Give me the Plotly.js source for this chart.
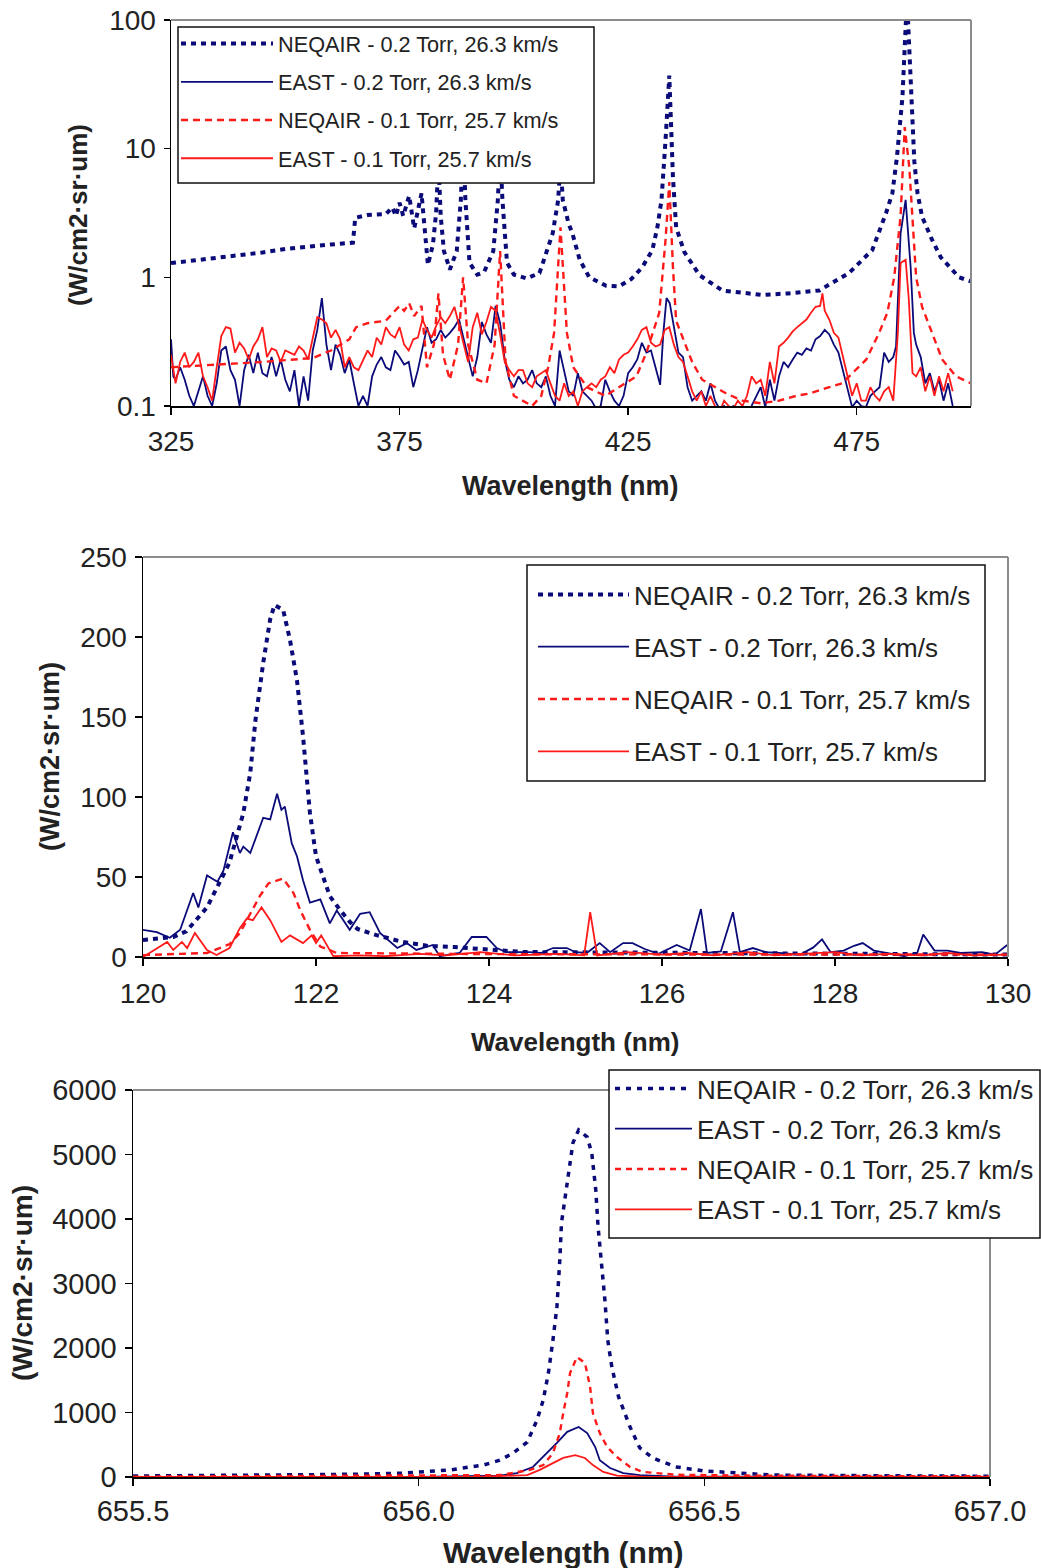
<!DOCTYPE html>
<html>
<head>
<meta charset="utf-8">
<script src="https://cdn.plot.ly/plotly-3.0.1.min.js"></script>
<style>
  html, body { margin: 0; padding: 0; background: #fff; }
  #chart { width: 1041px; height: 1568px; }
</style>
</head>
<body>
<div id="chart"></div>
<script>
// ---------- Series names ----------
const seriesNames = [
  'NEQAIR - 0.2 Torr, 26.3 km/s',
  'EAST - 0.2 Torr, 26.3 km/s',
  'NEQAIR - 0.1 Torr, 25.7 km/s',
  'EAST - 0.1 Torr, 25.7 km/s'
];

// ---------- Panel 1 : 325-500 nm (log scale) ----------
const p1NeqairHighX = [325,330,335,340,345,350,355,360,364.8,365.3,368,372,373.4,374.2,375,375.8,377.1,378.2,379.8,381.2,382.3,383.0,383.5,384.0,384.7,386,387.5,388.4,388.9,389.4,390.3,392,393.5,395.5,396.5,397,397.5,398.5,400,402.8,405.6,407.2,408.5,409.7,410.2,410.7,412,412.8,414.4,416.5,420.2,423,425.7,428.1,430.3,431.4,432.3,433.2,434.0,434.8,435.5,437.3,440.6,445.6,452,454.3,460,466.8,473.3,478.4,481.4,482.8,483.8,485.0,486.0,487.0,487.6,488.3,489.3,491.5,493.4,497.4,500];
const p1NeqairHighY = [1.29,1.35,1.41,1.48,1.56,1.66,1.74,1.80,1.86,2.9,3.05,3.1,3.5,3.0,3.8,3.0,4.3,2.4,4.5,1.25,1.8,3.2,8,3.0,1.6,1.15,1.6,4,12,4,1.3,1.05,1.1,1.6,4,10,4,1.3,1.05,0.98,1.08,1.58,2.2,4,8,4,2.6,2.2,1.37,1.0,0.86,0.85,0.97,1.2,1.63,2.45,4.0,12,37,6,2.45,1.57,1.04,0.79,0.74,0.73,0.75,0.79,1.08,1.63,3.15,4.5,8.6,25,150,20,8,4.5,2.96,1.95,1.43,1.0,0.93];

const p1EastHighX = [325,325.5,326,327,328,329,330,331,332,333,334,335,336,337,338,339,340,341,342,343,344,345,346,347,348,349,350,351,352,353,354,355,356,357,358,359,360,361,362,363,364,365,366,367,368,369,370,371,372,373,374,375,376,377,378,379,380,381,382,383,384,385,386,387,388,389,390,391,392,393,394,395,396,397,398,399,400,401,402,403,404,405,406,407,408,409,410,411,412,413,414,415,416,417,418,419,420,421,422,423,424,425,426,427,428,429,430,431,432,432.7,433.4,434.1,435,436,437,438,439,440,441,442,443,444,445,446,447,448,449,450,451,452,453,454,455,456,457,458,459,460,461,462,463,464,465,466,467,468,469,470,471,472,473,474,475,476,477,478,479,480,481,482,483,483.6,484.6,485.7,486.8,487.5,488,489,490,491,492,493,494,495,496];
const p1EastHighY = [0.33,0.17,0.16,0.20,0.16,0.12,0.10,0.13,0.17,0.12,0.10,0.15,0.27,0.29,0.19,0.16,0.10,0.19,0.25,0.18,0.26,0.18,0.17,0.24,0.17,0.23,0.16,0.13,0.19,0.10,0.17,0.11,0.27,0.39,0.69,0.30,0.19,0.30,0.25,0.18,0.23,0.15,0.10,0.12,0.10,0.17,0.21,0.24,0.20,0.19,0.27,0.24,0.21,0.22,0.14,0.19,0.28,0.41,0.31,0.33,0.39,0.34,0.37,0.41,0.47,0.33,0.24,0.17,0.24,0.45,0.36,0.31,0.60,0.44,0.23,0.16,0.14,0.17,0.15,0.16,0.19,0.15,0.14,0.17,0.12,0.10,0.27,0.19,0.13,0.12,0.18,0.13,0.12,0.11,0.095,0.10,0.16,0.13,0.11,0.10,0.12,0.18,0.20,0.23,0.31,0.26,0.27,0.20,0.146,0.37,0.69,0.63,0.41,0.26,0.24,0.14,0.11,0.12,0.13,0.11,0.15,0.11,0.095,0.10,0.09,0.10,0.095,0.10,0.09,0.10,0.12,0.14,0.098,0.16,0.11,0.17,0.22,0.20,0.23,0.26,0.25,0.28,0.27,0.33,0.35,0.39,0.36,0.30,0.26,0.19,0.14,0.098,0.11,0.10,0.098,0.12,0.13,0.14,0.26,0.22,0.24,0.29,2.2,4.0,1.2,0.37,0.30,0.24,0.15,0.18,0.13,0.16,0.11,0.15,0.10];

const p1NeqairLowX = [325,335,345,356,360,364,365.5,368,372,374,375,376,377.1,378.2,379.8,381,382.5,383.5,384.5,386,387.8,388.9,390,392,394,395.8,397.0,398.2,400,404,406,407.5,408.8,410.2,411.6,413,416,420,423,426.8,429,431.8,433.2,434.0,434.8,435.5,439,441.2,446.5,450,454,458,461.8,464.6,469,471.8,477.1,479.9,481.7,483.2,484.6,485.5,486.5,488.0,489.3,491.5,493.7,496.7,500];
const p1NeqairLowY = [0.2,0.21,0.22,0.236,0.27,0.33,0.41,0.44,0.46,0.55,0.6,0.55,0.63,0.5,0.6,0.2,0.3,0.75,0.25,0.16,0.3,1.0,0.3,0.16,0.15,0.3,1.6,0.22,0.12,0.1,0.12,0.2,0.37,2.45,0.37,0.2,0.14,0.12,0.14,0.17,0.26,0.53,2.0,5.5,1.2,0.46,0.22,0.16,0.125,0.11,0.105,0.11,0.12,0.125,0.14,0.15,0.23,0.37,0.53,1.0,3.0,14.7,7.2,1.0,0.59,0.37,0.23,0.17,0.15];

const p1EastLowX = [325,326,327,328,329,330,331,332,333,334,335,336,337,338,339,340,341,342,343,344,345,346,347,348,349,350,351,352,353,354,355,356,357,358,359,360,361,362,363,364,365,366,367,368,369,370,371,372,373,374,375,376,377,378,379,380,381,382,383,384,385,386,387,388,389,390,391,392,393,394,395,396,397,398,399,400,401,402,403,404,405,406,407,408,409,410,411,412,413,414,415,416,417,418,419,420,421,422,423,424,425,426,427,428,429,430,431,432,433,434,435,436,437,438,439,440,441,442,443,444,445,446,447,448,449,450,451,452,453,454,455,456,457,458,459,460,461,462,463,464,465,466,467,467.5,468,469,470,471,472,473,474,475,476,477,478,479,480,481,482,483,484,484.6,485.7,486.4,487.2,488,489,490,491,492,493,494,495,496];
const p1EastLowY = [0.25,0.15,0.22,0.26,0.20,0.22,0.26,0.17,0.14,0.11,0.20,0.35,0.41,0.40,0.26,0.31,0.28,0.23,0.29,0.33,0.41,0.24,0.28,0.27,0.22,0.27,0.26,0.25,0.29,0.27,0.23,0.33,0.49,0.47,0.44,0.34,0.39,0.33,0.20,0.24,0.20,0.19,0.23,0.27,0.24,0.34,0.30,0.41,0.36,0.34,0.41,0.30,0.27,0.33,0.34,0.47,0.39,0.34,0.42,0.49,0.44,0.50,0.59,0.42,0.30,0.22,0.41,0.53,0.36,0.45,0.59,0.55,0.36,0.22,0.19,0.17,0.19,0.19,0.15,0.14,0.17,0.18,0.19,0.15,0.12,0.11,0.15,0.12,0.13,0.10,0.13,0.14,0.15,0.14,0.16,0.17,0.20,0.18,0.23,0.25,0.26,0.29,0.33,0.39,0.41,0.31,0.29,0.30,0.39,0.41,0.30,0.24,0.22,0.17,0.13,0.11,0.13,0.10,0.12,0.10,0.09,0.11,0.10,0.095,0.11,0.10,0.12,0.17,0.15,0.16,0.12,0.22,0.15,0.29,0.31,0.34,0.38,0.41,0.44,0.47,0.53,0.59,0.60,0.75,0.55,0.47,0.37,0.34,0.24,0.17,0.12,0.15,0.11,0.11,0.14,0.12,0.11,0.13,0.14,0.11,0.37,1.29,1.37,0.67,0.18,0.17,0.20,0.13,0.17,0.12,0.17,0.13,0.18,0.13];

// ---------- Panel 2 : 120-130 nm ----------
const p2NeqairHighX = [120.0,120.35,120.5,120.74,121.0,121.16,121.24,121.3,121.39,121.47,121.52,121.62,121.7,121.78,121.85,121.93,122.0,122.16,122.27,122.39,122.48,122.7,123.0,123.3,123.6,124.1,124.4,125.5,126.5,127.5,128.5,130];
const p2NeqairHighY = [10.6,12.5,16,31,59,90,115,148,184,211,220,217,198,173,138,90,63,38,30,22,17.5,13.7,9.4,6.9,6.2,4.4,3.1,2.8,2.5,2.2,2.0,1.5];

const p2EastHighX = [120.0,120.16,120.31,120.43,120.58,120.64,120.74,120.86,120.93,121.04,121.12,121.16,121.24,121.39,121.47,121.55,121.6,121.64,121.72,121.78,121.85,121.93,122.05,122.16,122.24,122.39,122.51,122.62,122.74,122.94,123.05,123.16,123.35,123.43,123.66,123.8,123.97,124.09,124.2,124.47,124.6,124.74,124.9,125.0,125.13,125.28,125.4,125.55,125.66,125.8,125.96,126.17,126.32,126.45,126.52,126.68,126.82,126.9,127.05,127.2,127.35,127.6,127.75,127.85,127.95,128.1,128.22,128.32,128.45,128.6,128.8,128.95,129.02,129.15,129.3,129.45,129.7,129.85,129.99];
const p2EastHighY = [17,15.5,12,17,40,31,51,47,54,78,65,69,65,87,86,102,92,94,71,63,48,34,36,21,29,17,27,28,15,5.6,8.7,4.4,7.5,0.5,2.5,12.5,12.5,5.6,3,3,2.5,5.6,5.6,3,2.5,8.7,3,8.7,8.7,5,2,7.5,4,30,2.5,3.5,28,3,5.6,3,2.5,1.5,6,11,3,4,7,8.7,4,2.5,0.5,2.5,14,4,4,2.5,3,1.5,7.5];

const p2NeqairLowX = [120.0,120.74,121.0,121.12,121.24,121.35,121.45,121.62,121.74,121.82,121.93,122.05,122.24,123,124,126,128,130];
const p2NeqairLowY = [1.2,2.5,8,15,27,38,46,49,40,29,17,6.5,2.5,2.0,1.8,1.6,1.5,1.5];

const p2EastLowX = [120.0,120.28,120.35,120.45,120.51,120.6,120.74,120.85,121.0,121.12,121.2,121.27,121.37,121.47,121.6,121.7,121.85,121.95,122.0,122.06,122.2,122.5,122.8,123.2,123.5,123.9,124.3,124.8,125.1,125.17,125.25,125.6,126.0,126.3,126.6,127.0,127.3,127.6,128.0,128.3,128.6,129.0,129.3,129.6,130.0];
const p2EastLowY = [0,9.4,4.4,9.4,5.6,15,4.4,1.2,5.6,18,24,23,31,23,9.4,13.5,8.7,13.5,8.7,13.5,0.5,1,0.5,2,1,3,1,2,1,28,1,3,1.5,2.5,1,3,1,2,3,1,2,1,2.5,1,1.5];

// ---------- Panel 3 : 655.5-657.0 nm ----------
const p3NeqairHighX = [655.5,655.6,655.7,655.8,655.9,655.97,656.055,656.113,656.142,656.165,656.19,656.207,656.218,656.227,656.235,656.242,656.247,656.25,656.26,656.27,656.28,656.295,656.303,656.31,656.314,656.32,656.326,656.331,656.338,656.35,656.37,656.387,656.41,656.428,656.452,656.498,656.568,656.62,656.8,657.0];
const p3NeqairHighY = [15,18,25,35,45,60,110,185,260,370,540,880,1190,1610,2120,2640,3360,3940,4560,5180,5380,5270,5020,4450,3880,3360,2740,2120,1710,1240,775,450,295,230,155,95,60,30,20,12];

const p3EastHighX = [655.5,656.0,656.142,656.172,656.2,656.225,656.242,656.26,656.28,656.295,656.309,656.317,656.335,656.358,656.387,656.45,657.0];
const p3EastHighY = [0,3,20,60,155,370,530,700,775,680,465,260,140,60,30,5,0];

const p3NeqairLowX = [655.5,655.9,656.1,656.142,656.195,656.218,656.235,656.247,656.253,656.26,656.265,656.277,656.291,656.3,656.305,656.317,656.33,656.347,656.37,656.393,656.45,656.6,657.0];
const p3NeqairLowY = [5,15,25,30,110,185,370,680,990,1300,1610,1860,1770,1400,990,680,465,310,155,78,35,20,10];

const p3EastLowX = [655.5,656.1,656.19,656.212,656.235,656.253,656.274,656.291,656.305,656.323,656.347,656.4,657.0];
const p3EastLowY = [0,0,30,110,215,295,340,295,185,78,20,3,0];

// ---------- Tick labels ----------
const p1XTicks = [325, 375, 425, 475];
const p1YTicks = [0.1, 1, 10, 100];
const p1YTickText = ['0.1', '1', '10', '100'];
const p3XTicks = [655.5, 656.0, 656.5, 657.0];
const p3XTickText = ['655.5', '656.0', '656.5', '657.0'];

const xTitle = 'Wavelength (nm)';
const yTitle = '(W/cm2·sr·um)';

// ---------- Styling ----------
const NAVY = '#0a0a78';
const RED = '#ff1a1a';
const W = 1041, H = 1568;
const px = v => v / W;
const py = v => 1 - v / H;

function mk(x, y, idx, xa, ya, leg, dotW, dotDash, dashR) {
  const styles = [
    {color: NAVY, width: dotW, dash: dotDash},
    {color: NAVY, width: 1.8},
    {color: RED, width: 2.4, dash: dashR},
    {color: RED, width: 1.8}
  ];
  return {
    x: x, y: y, type: 'scatter', mode: 'lines',
    name: seriesNames[idx], line: styles[idx],
    xaxis: xa, yaxis: ya, legend: leg, legendgroup: leg + idx,
    hoverinfo: 'x+y'
  };
}

const traces = [
  mk(p1NeqairHighX, p1NeqairHighY, 0, 'x', 'y', 'legend', 4, '5px,5px', '7px,5px'),
  mk(p1EastHighX, p1EastHighY, 1, 'x', 'y', 'legend', 4, '5px,5px', '7px,5px'),
  mk(p1NeqairLowX, p1NeqairLowY, 2, 'x', 'y', 'legend', 4, '5px,5px', '7px,5px'),
  mk(p1EastLowX, p1EastLowY, 3, 'x', 'y', 'legend', 4, '5px,5px', '7px,5px'),
  mk(p2NeqairHighX, p2NeqairHighY, 0, 'x2', 'y2', 'legend2', 4, '5px,5px', '7px,5px'),
  mk(p2EastHighX, p2EastHighY, 1, 'x2', 'y2', 'legend2', 4, '5px,5px', '7px,5px'),
  mk(p2NeqairLowX, p2NeqairLowY, 2, 'x2', 'y2', 'legend2', 4, '5px,5px', '7px,5px'),
  mk(p2EastLowX, p2EastLowY, 3, 'x2', 'y2', 'legend2', 4, '5px,5px', '7px,5px'),
  mk(p3NeqairHighX, p3NeqairHighY, 0, 'x3', 'y3', 'legend3', 3.5, '5px,6px', '6px,5px'),
  mk(p3EastHighX, p3EastHighY, 1, 'x3', 'y3', 'legend3', 3.5, '5px,6px', '6px,5px'),
  mk(p3NeqairLowX, p3NeqairLowY, 2, 'x3', 'y3', 'legend3', 3.5, '5px,6px', '6px,5px'),
  mk(p3EastLowX, p3EastLowY, 3, 'x3', 'y3', 'legend3', 3.5, '5px,6px', '6px,5px')
];

const FONT = 'Liberation Sans, Arial, Helvetica, sans-serif';
function axisBase(size, tl, standoff) {
  return {
    showline: true, linecolor: '#000', linewidth: 1.5, mirror: false,
    ticks: 'outside', ticklen: tl, tickwidth: 1.5, tickcolor: '#000',
    showgrid: false, zeroline: false, fixedrange: true,
    ticklabelstandoff: standoff,
    tickfont: {family: FONT, size: size, color: '#222'}
  };
}

function legendCfg(x, y, size, iw, gap) {
  return {
    x: px(x), y: py(y), xanchor: 'left', yanchor: 'top',
    bgcolor: 'rgba(0,0,0,0)', borderwidth: 0,
    font: {family: FONT, size: size, color: '#222'},
    itemwidth: iw, traceorder: 'grouped', tracegroupgap: gap
  };
}

// legend frames (white boxes that hide the curves behind the legends)
const legendBoxes = [
  [178, 27, 594, 183],
  [527, 565, 985, 781],
  [609, 1070, 1040, 1238]
];

const frameShapes = [['x', 'y'], ['x2', 'y2'], ['x3', 'y3']].flatMap(([xa, ya]) => [
  {type: 'line', xref: xa + ' domain', yref: ya + ' domain', x0: 0, x1: 1, y0: 1, y1: 1, line: {color: '#8c8c8c', width: 2}},
  {type: 'line', xref: xa + ' domain', yref: ya + ' domain', x0: 1, x1: 1, y0: 0, y1: 1, line: {color: '#8c8c8c', width: 2}}
]);

const boxShapes = legendBoxes.map(b => ({
  type: 'rect', xref: 'paper', yref: 'paper',
  x0: px(b[0]), x1: px(b[2]), y0: py(b[3]), y1: py(b[1]),
  fillcolor: '#fff', line: {color: '#111', width: 1.5}, layer: 'above'
}));

const layout = {
  width: W, height: H,
  margin: {l: 0, r: 0, t: 0, b: 0, autoexpand: false},
  paper_bgcolor: '#fff', plot_bgcolor: '#fff',
  font: {family: FONT, color: '#222'},
  showlegend: true,
  xaxis: Object.assign(axisBase(28, 7, 3), {domain: [px(171), px(971)], range: [325, 500], tickvals: p1XTicks, anchor: 'y'}),
  yaxis: Object.assign(axisBase(28, 6, 2), {domain: [py(406), py(20)], type: 'log', range: [-1, 2], tickvals: p1YTicks, ticktext: p1YTickText, anchor: 'x'}),
  xaxis2: Object.assign(axisBase(28, 7, 4), {domain: [px(143), px(1008)], range: [120, 130], dtick: 2, tick0: 120, anchor: 'y2'}),
  yaxis2: Object.assign(axisBase(28, 7, 2), {domain: [py(957), py(557)], range: [0, 250], dtick: 50, anchor: 'x2'}),
  xaxis3: Object.assign(axisBase(29, 7, 1), {domain: [px(133), px(990)], range: [655.5, 657.0], tickvals: p3XTicks, ticktext: p3XTickText, anchor: 'y3'}),
  yaxis3: Object.assign(axisBase(29, 7, 2), {domain: [py(1477), py(1090)], range: [0, 6000], dtick: 1000, anchor: 'x3'}),
  legend: legendCfg(176, 23, 21.7, 92, 7),
  legend2: legendCfg(533, 571, 26, 91, 15.5),
  legend3: legendCfg(610, 1065, 26, 77, 3.5),
  shapes: frameShapes.concat(boxShapes),
  annotations: [
    {text: '<b>' + xTitle + '</b>', x: px(570), y: py(486), size: 27},
    {text: '<b>' + yTitle + '</b>', x: px(78), y: py(215), size: 26, rot: -90},
    {text: '<b>' + xTitle + '</b>', x: px(575), y: py(1042), size: 26},
    {text: '<b>' + yTitle + '</b>', x: px(50), y: py(757), size: 27, rot: -90},
    {text: '<b>' + xTitle + '</b>', x: px(563), y: py(1552), size: 30},
    {text: '<b>' + yTitle + '</b>', x: px(22), y: py(1283), size: 28, rot: -90}
  ].map(a => ({
    text: a.text, x: a.x, y: a.y, xref: 'paper', yref: 'paper',
    xanchor: 'center', yanchor: 'middle', showarrow: false,
    textangle: a.rot || 0,
    font: {family: FONT, size: a.size, color: '#222'}
  }))
};

Plotly.newPlot('chart', traces, layout, {displayModeBar: false, staticPlot: true});
</script>
</body>
</html>
